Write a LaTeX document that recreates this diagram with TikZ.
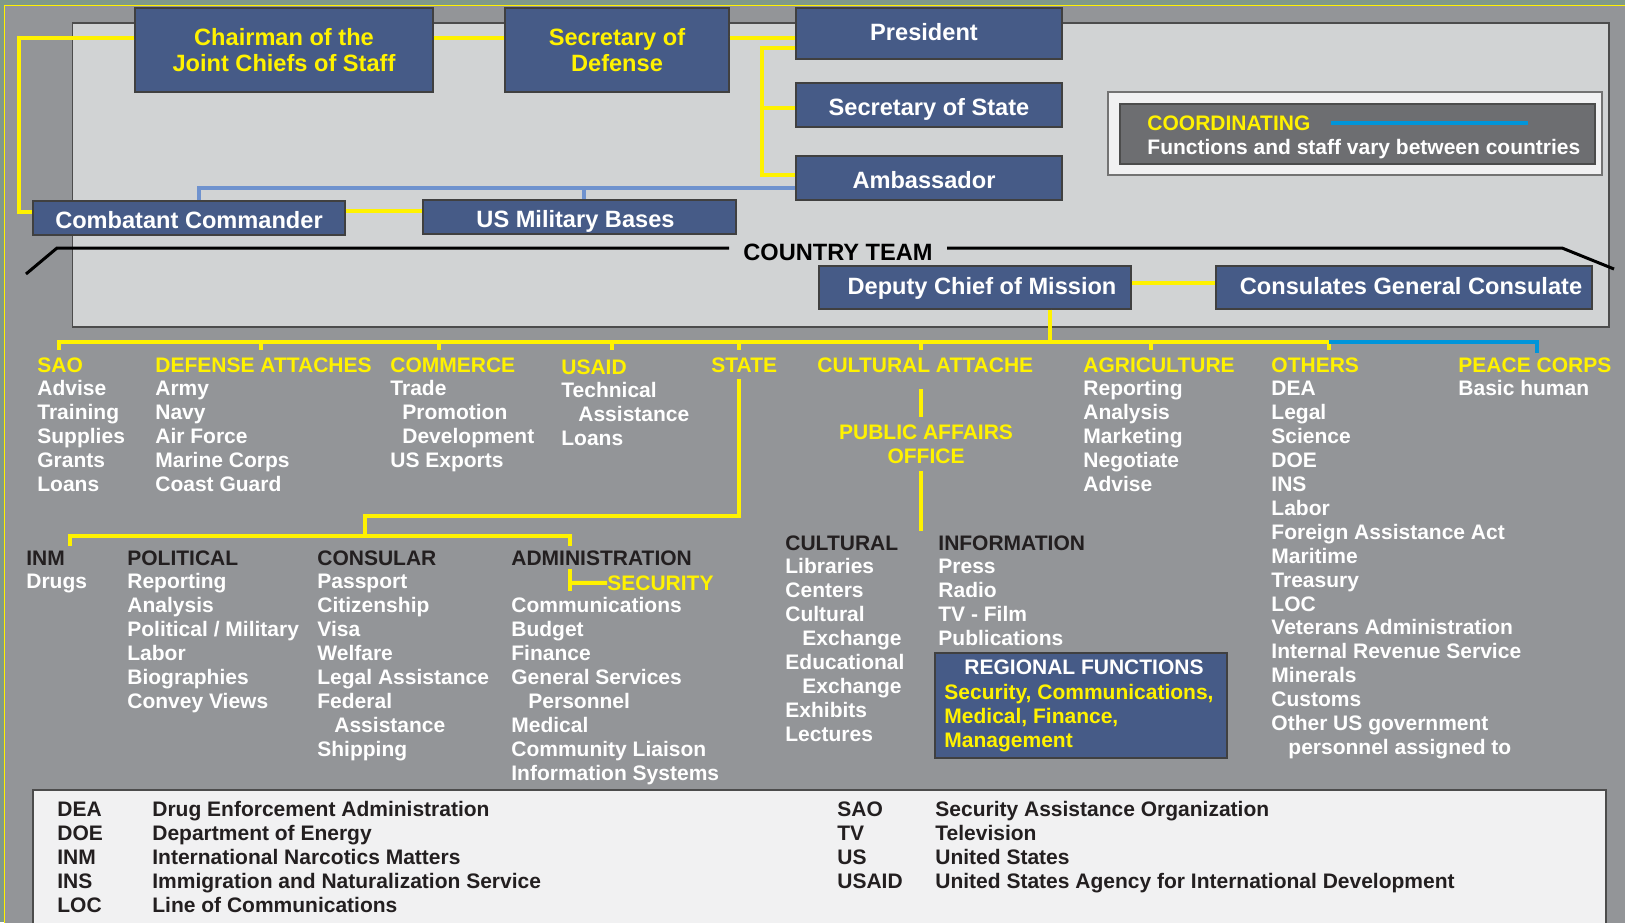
\documentclass[tikz,border=0pt]{standalone}
\usepackage{fontspec}
\setmainfont{Liberation Sans}
\usetikzlibrary{positioning,calc}

\definecolor{panelgray}{RGB}{209,211,212}
\definecolor{bggray}{RGB}{147,149,152}
\definecolor{framegreen}{RGB}{128,153,138}
\definecolor{navy}{RGB}{70,91,135}
\definecolor{ylw}{RGB}{255,242,0}
\definecolor{ltblue}{RGB}{111,146,206}
\definecolor{pcblue}{RGB}{0,149,218}
\definecolor{darktxt}{RGB}{35,31,32}
\definecolor{legendbg}{RGB}{241,241,242}
\definecolor{coordgray}{RGB}{109,110,113}

\newcommand{\ind}{\hspace*{8.5pt}}

\tikzset{
  unitbox/.style={draw=black!75, line width=0.6pt, fill=navy, text=white,
    font=\fontsize{11.8}{13}\selectfont\bfseries, align=center, inner sep=0pt},
  oneline/.style={unitbox, text height=10.4pt, text depth=0pt},
  highline/.style={unitbox, text height=8.4pt, text depth=1pt},
  yline/.style={draw=ylw, line width=2pt},
  bline/.style={draw=ltblue, line width=2pt},
  pline/.style={draw=pcblue, line width=2pt},
  teamline/.style={draw=black, line width=1.5pt},
  hdtext/.style={anchor=base west, inner sep=0pt, text=ylw, font=\fontsize{10.5}{12}\selectfont\bfseries},
  itemtext/.style={anchor=base west, inner sep=0pt, text=white, font=\fontsize{10.5}{12}\selectfont\bfseries},
  subtext/.style={itemtext, text=darktxt},
}

\begin{document}
\begin{tikzpicture}[x=0.5pt,y=-0.5pt]
\useasboundingbox (0,0) rectangle (1625,922);
% frame and panel
\fill[framegreen] (0,0) rectangle (1625,922);
\filldraw[fill=bggray, draw=ylw, line width=0.5pt] (4,5) rectangle (1640,940);
\filldraw[fill=panelgray, draw=black!70, line width=0.6pt] (72.5,23) rectangle (1609,327);

% coordinating key
\filldraw[fill=legendbg, draw=black!55, line width=0.6pt] (1108,92) rectangle (1602,175);
\filldraw[fill=coordgray, draw=black!70, line width=0.6pt] (1120,104) rectangle (1595,164);
\node[hdtext] (coord) at (1147,130) {COORDINATING};
\draw[pline] ([xshift=10pt]coord.east) -- ++(197,0);
\node[itemtext] (coordnote) at (1147,154) {Functions and staff vary between countries};

% top boxes
\node[unitbox, text=ylw, minimum width=149pt, minimum height=42pt] (cjcs) at (284,50) {Chairman of the\\Joint Chiefs of Staff};
\node[unitbox, text=ylw, minimum width=112pt, minimum height=42pt] (secdef) at (617,50) {Secretary of\\Defense};
\node[highline, minimum width=133pt, minimum height=25.5pt] (pres) at (929,33.5) {President\hspace*{5pt}};
\node[oneline, minimum width=133pt, minimum height=22pt] (secstate) at (929,105) {Secretary of State};
\node[oneline, minimum width=133pt, minimum height=22pt] (amb) at (929,178) {Ambassador\hspace*{5pt}};
\node[oneline, minimum width=156pt, minimum height=17pt] (ccdr) at (189,218) {Combatant Commander};
\node[oneline, minimum width=156.5pt, minimum height=17pt] (usmb) at (579.5,217) {US Military Bases\hspace*{4pt}};
\node[highline, minimum width=156pt, minimum height=21.5pt] (dcm) at (975,287.5) {\hspace*{7pt}Deputy Chief of Mission};
\node[highline, minimum width=188pt, minimum height=21.5pt] (consul) at (1404,287.5) {\hspace*{7pt}Consulates General Consulate};

% chain of command
\draw[yline] (cjcs.west |- 0,38) -| (19,212) -- (ccdr.west |- 0,212);
\draw[yline] (cjcs.east |- 0,38) -- (secdef.west |- 0,38);
\draw[yline] (secdef.east |- 0,38) -- (pres.west |- 0,38);
\draw[yline] (pres.west |- 0,48) -| (762,175) -- (amb.west |- 0,175);
\draw[yline] (762,108) -- (secstate.west |- 0,108);
\draw[bline] (amb.west |- 0,188) -| (ccdr.north -| 199,0);
\draw[bline] (584,188) -- (usmb.north -| 584,0);
\draw[yline] (ccdr.east |- 0,211) -- (usmb.west |- 0,211);
\draw[yline] (dcm.east |- 0,283) -- (consul.west |- 0,283);

% country team
\node[anchor=base, inner ysep=0pt, inner xsep=7pt, font=\fontsize{11.8}{13}\selectfont\bfseries] (team) at (838,260) {COUNTRY TEAM};
\draw[teamline] (26,274) -- (57,248) -- (team.west |- 0,248);
\draw[teamline] (team.east |- 0,248) -- (1562,248) -- (1614,269);

% country team sections
\draw[yline] (dcm.south -| 1050,0) -- (1050,343);
\draw[yline] (59,350) -- (59,342) -- (1329,342) -- (1329,350);
\foreach \x in {261,439,612,739,921,1151}
  \draw[yline] (\x,342) -- (\x,350);
\draw[pline] (1329,342) -- (1537,342) -- (1537,353);

\node[hdtext] (sao) at (37,372) {SAO};
\node[hdtext] (defatt) at (155,372) {DEFENSE ATTACHES};
\node[hdtext] (commerce) at (390,372) {COMMERCE};
\node[hdtext] (usaid) at (561,374) {USAID};
\node[hdtext] (state) at (711,372) {STATE};
\node[hdtext] (cultatt) at (817,372) {CULTURAL ATTACHE};
\node[hdtext] (agri) at (1083,372) {AGRICULTURE};
\node[hdtext] (others) at (1271,372) {OTHERS};
\node[hdtext] (peace) at (1458,372) {PEACE CORPS};

\foreach \txt [count=\i] in {Advise,Training,Supplies,Grants,Loans}
  \node[itemtext] (sao-\i) at (37,372+23.9*\i) {\txt};
\foreach \txt [count=\i] in {Army,Navy,Air Force,Marine Corps,Coast Guard}
  \node[itemtext] (defatt-\i) at (155,372+23.9*\i) {\txt};
\foreach \txt [count=\i] in {Trade,{\hspace*{6pt}Promotion},{\hspace*{6pt}Development},US Exports}
  \node[itemtext] (commerce-\i) at (390,372+23.9*\i) {\txt};
\foreach \txt [count=\i] in {Technical,{\ind Assistance},Loans}
  \node[itemtext] (usaid-\i) at (561,374+23.9*\i) {\txt};
\foreach \txt [count=\i] in {Reporting,Analysis,Marketing,Negotiate,Advise}
  \node[itemtext] (agri-\i) at (1083,372+23.9*\i) {\txt};
\foreach \txt [count=\i] in {DEA,Legal,Science,DOE,INS,Labor,Foreign Assistance Act,Maritime,Treasury,LOC,
    Veterans Administration,Internal Revenue Service,Minerals,Customs,Other US government,{\ind personnel assigned to}}
  \node[itemtext] (others-\i) at (1271,372+23.9*\i) {\txt};
\node[itemtext] (peace-1) at (1458,395.9) {Basic human};

% state section
\draw[yline] (739,379) -- (739,516) -| (365,536);
\draw[yline] (70,546) -- (70,536) -- (570,536) -- (570,546);

\node[subtext] (inm) at (26,565) {INM};
\node[subtext] (political) at (127,565) {POLITICAL};
\node[subtext] (consular) at (317,565) {CONSULAR};
\node[subtext] (admin) at (511,565) {ADMINISTRATION};

\node[itemtext] (inm-1) at (26,588.9) {Drugs};
\foreach \txt [count=\i] in {Reporting,Analysis,{Political / Military},Labor,Biographies,Convey Views}
  \node[itemtext] (political-\i) at (127,565+23.9*\i) {\txt};
\foreach \txt [count=\i] in {Passport,Citizenship,Visa,Welfare,Legal Assistance,Federal,{\ind Assistance},Shipping}
  \node[itemtext] (consular-\i) at (317,565+23.9*\i) {\txt};
\foreach \txt [count=\i from 2] in {Communications,Budget,Finance,General Services,{\ind Personnel},Medical,Community Liaison,Information Systems}
  \node[itemtext] (admin-\i) at (511,565+23.9*\i) {\txt};

\node[hdtext] (security) at (607,590) {SECURITY};
\draw[yline] (570,569) -- (570,591);
\draw[yline] (570,583) -- (security.west);

% public affairs
\draw[yline] (921,389) -- (921,417);
\node[hdtext, anchor=base] (pao) at (926,439) {PUBLIC AFFAIRS};
\node[hdtext, anchor=base] (pao-2) at (926,463) {OFFICE};
\draw[yline] (921,471) -- (921,531);

\node[subtext] (cultural) at (785,550) {CULTURAL};
\node[subtext] (info) at (938,550) {INFORMATION};
\foreach \txt [count=\i] in {Libraries,Centers,Cultural,{\ind Exchange},Educational,{\ind Exchange},Exhibits,Lectures}
  \node[itemtext] (cultural-\i) at (785,550+23.9*\i) {\txt};
\foreach \txt [count=\i] in {Press,Radio,TV - Film,Publications}
  \node[itemtext] (info-\i) at (938,550+23.9*\i) {\txt};

\node[draw=black!75, fill=navy, line width=0.6pt, minimum width=146pt, minimum height=52.5pt, inner sep=0pt] (regional) at (1081,705.5) {};
\node[itemtext, anchor=base] (regtitle) at (1084,674) {REGIONAL FUNCTIONS};
\node[hdtext] (regional-1) at (944,699) {Security, Communications,};
\node[hdtext] (regional-2) at (944,723) {Medical, Finance,};
\node[hdtext] (regional-3) at (944,747) {Management};

% abbreviations
\filldraw[fill=legendbg, draw=black!70, line width=0.6pt] (33,790) rectangle (1606,940);
\foreach \ab/\df [count=\i] in {DEA/Drug Enforcement Administration,DOE/Department of Energy,
    INM/International Narcotics Matters,INS/Immigration and Naturalization Service,LOC/Line of Communications} {
  \node[subtext] (abbl-\i) at (57,792+24*\i) {\ab};
  \node[subtext] (defl-\i) at (152,792+24*\i) {\df};
}
\foreach \ab/\df [count=\i] in {SAO/Security Assistance Organization,TV/Television,
    US/United States,USAID/United States Agency for International Development} {
  \node[subtext] (abbr-\i) at (837,792+24*\i) {\ab};
  \node[subtext] (defr-\i) at (935,792+24*\i) {\df};
}
\end{tikzpicture}
\end{document}
